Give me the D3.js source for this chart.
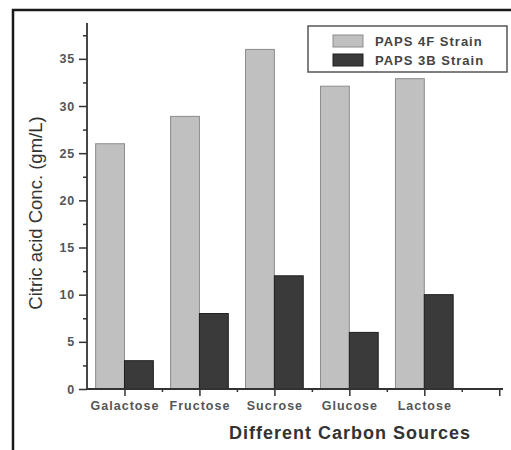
<!DOCTYPE html>
<html><head><meta charset="utf-8">
<script src="https://cdn.jsdelivr.net/npm/d3@7"></script>
<style>body{margin:0;background:#fff}</style>
</head><body>
<script>
const categories = ["Galactose","Fructose","Sucrose","Glucose","Lactose"];
const seriesNames = ["PAPS 4F Strain","PAPS 3B Strain"];
const strain4F = [26, 28.9, 36, 32.1, 32.9];
const strain3B = [3, 8, 12, 6, 10];
const yTicks = [0,5,10,15,20,25,30,35];
const colors = ["#c0c0c0","#3a3a3a"];
const strokes = ["#8c8c8c","#1e1e1e"];

const W=511,H=450;
const svg=d3.select("body").append("svg").attr("width",W).attr("height",H);
svg.append("rect").attr("width",W).attr("height",H).attr("fill","#fff");

// frame
svg.append("path").attr("d","M13,450 L13,10 L511,10").attr("fill","none").attr("stroke","#1a1a1a").attr("stroke-width",2.5);

const y=d3.scaleLinear().domain([0,38.8]).range([389,23]);
const x=d3.scaleLinear().domain([-0.5,5.05]).range([87,503]);
const bw=x(0.385)-x(0);

const series=[strain4F,strain3B];
series.forEach((vals,s)=>{
  svg.append("g").selectAll("rect").data(vals).join("rect")
    .attr("x",(d,i)=> s===0 ? x(i)-bw : x(i))
    .attr("width",bw)
    .attr("y",d=>y(d))
    .attr("height",d=>y(0)-y(d))
    .attr("fill",colors[s]).attr("stroke",strokes[s]).attr("stroke-width",1);
});

// Y axis
const yAxis=d3.axisLeft(y).tickValues(yTicks).tickSize(8).tickPadding(4).tickFormat(d3.format("d"));
const gy=svg.append("g").attr("transform","translate(87,0)").call(yAxis);
gy.select(".domain").remove();
gy.selectAll("line").attr("stroke","#333").attr("stroke-width",1.5);
gy.selectAll("text").attr("font-family","Liberation Sans, Arial").attr("font-weight","bold")
  .attr("font-size",12.5).attr("letter-spacing","0.8px").attr("fill","#555");
const yMinor=d3.axisLeft(y).tickValues(d3.range(2.5,38.8,5)).tickSize(4).tickFormat("");
const gym=svg.append("g").attr("transform","translate(87,0)").call(yMinor);
gym.select(".domain").remove();
gym.selectAll("line").attr("stroke","#333").attr("stroke-width",1.5);
svg.append("line").attr("x1",87).attr("x2",87).attr("y1",y(38.8)).attr("y2",y(0)).attr("stroke","#333").attr("stroke-width",1.8);

// X axis
const xAxis=d3.axisBottom(x).tickValues([0,1,2,3,4,5]).tickSize(7).tickPadding(5)
  .tickFormat(i=>categories[i]||"");
const gx=svg.append("g").attr("transform","translate(0,389)").call(xAxis);
gx.select(".domain").remove();
gx.selectAll("line").attr("stroke","#333").attr("stroke-width",1.5);
gx.selectAll("text").attr("font-family","Liberation Sans, Arial").attr("font-weight","bold")
  .attr("font-size",12.5).attr("letter-spacing","1px").attr("fill","#555");
const xMinor=d3.axisBottom(x).tickValues([0.5,1.5,2.5,3.5,4.5]).tickSize(3).tickFormat("");
const gxm=svg.append("g").attr("transform","translate(0,389)").call(xMinor);
gxm.select(".domain").remove();
gxm.selectAll("line").attr("stroke","#333").attr("stroke-width",1.5);
svg.append("line").attr("x1",87).attr("x2",503).attr("y1",389).attr("y2",389).attr("stroke","#333").attr("stroke-width",1.8);

// axis titles
svg.append("text").attr("x",350).attr("y",439).attr("text-anchor","middle")
  .attr("font-family","Liberation Sans, Arial").attr("font-weight","bold").attr("font-size",18)
  .attr("letter-spacing","1px").attr("fill","#333").text("Different Carbon Sources");
svg.append("text").attr("transform","translate(42,213) rotate(-90)").attr("text-anchor","middle")
  .attr("font-family","Liberation Sans, Arial").attr("font-size",18.5)
  .attr("fill","#333").text("Citric acid Conc. (gm/L)");

// legend
svg.append("rect").attr("x",308).attr("y",26).attr("width",199).attr("height",46)
  .attr("fill","#fff").attr("stroke","#555").attr("stroke-width",1.5);
seriesNames.forEach((n,i)=>{
  const cy=41+i*19;
  svg.append("rect").attr("x",333).attr("y",cy-6).attr("width",30).attr("height",12)
    .attr("fill",colors[i]).attr("stroke",strokes[i]).attr("stroke-width",1);
  svg.append("text").attr("x",375).attr("y",cy+5)
    .attr("font-family","Liberation Sans, Arial").attr("font-weight","bold").attr("font-size",13)
    .attr("letter-spacing","1px").attr("fill","#444").text(n);
});
</script>
</body></html>
